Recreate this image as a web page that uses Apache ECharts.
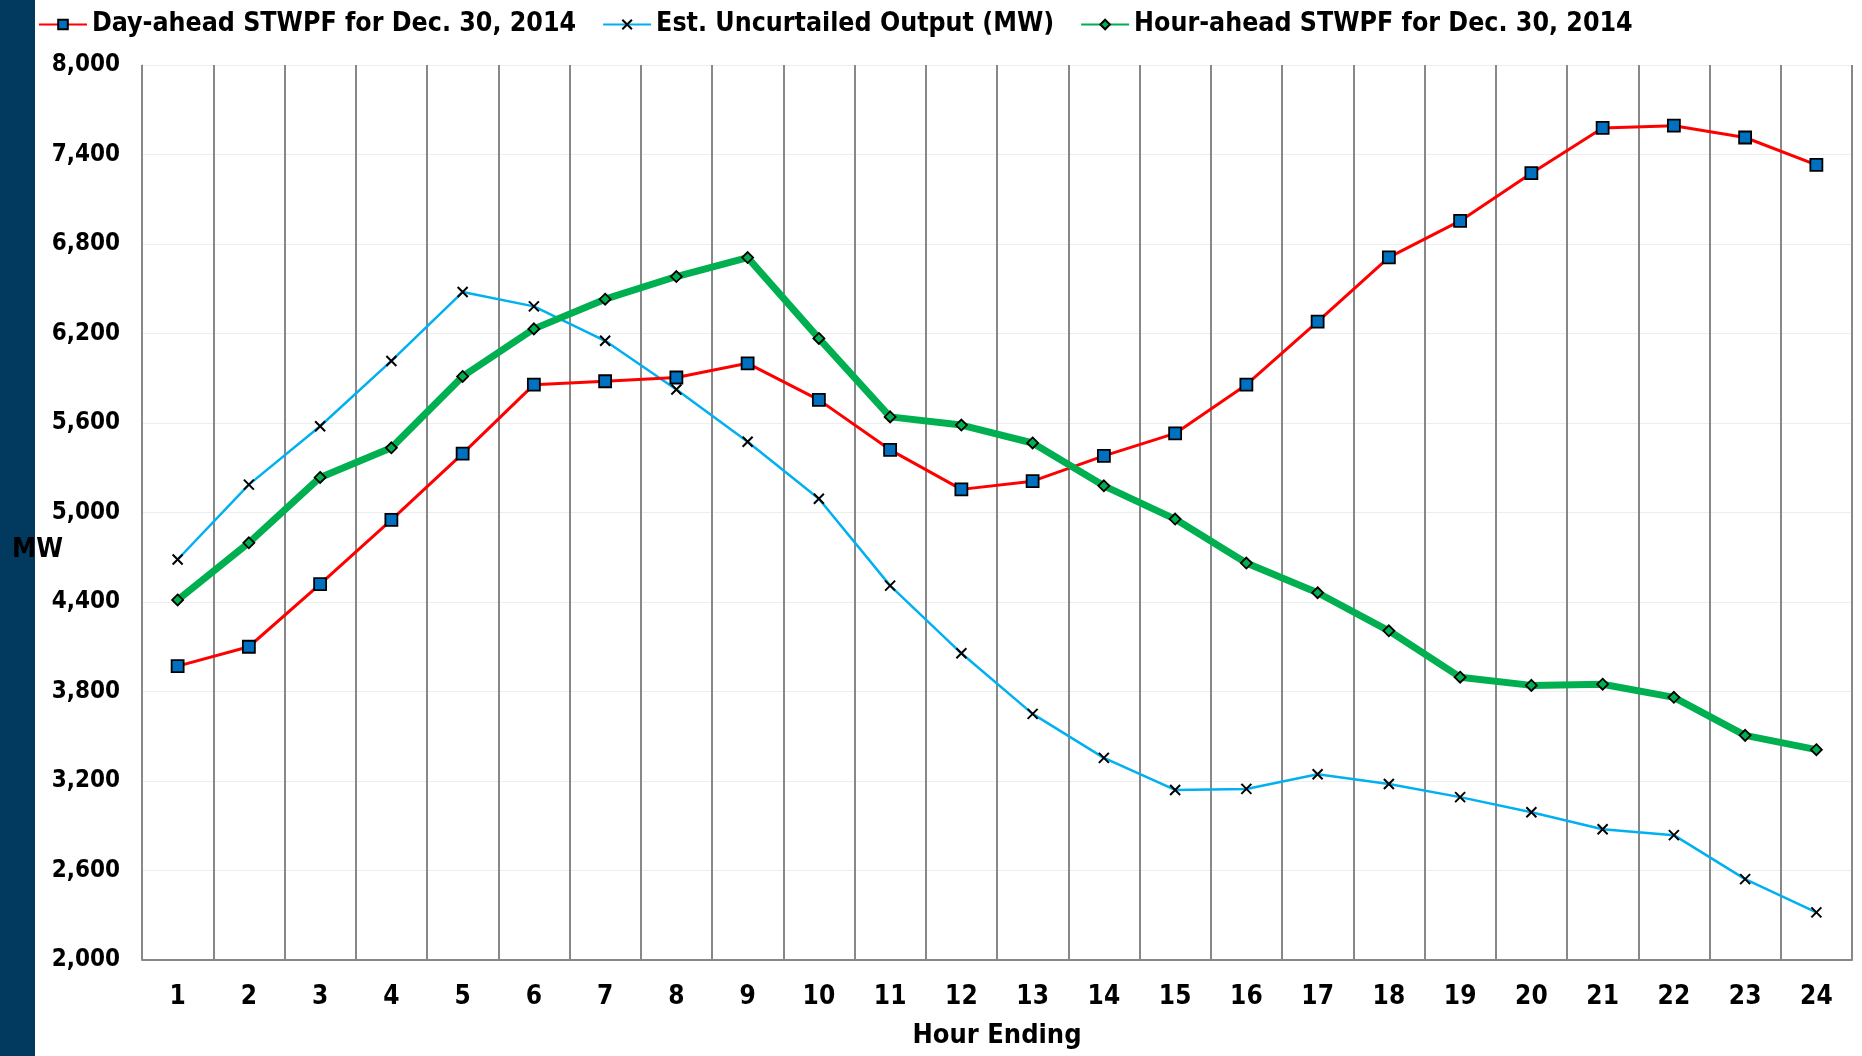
<!DOCTYPE html>
<html>
<head>
<meta charset="utf-8">
<script src="https://cdn.jsdelivr.net/npm/echarts@6/dist/echarts.min.js"></script>
<style>
  html, body { margin: 0; padding: 0; background: #ffffff; }
  #chart { width: 1862px; height: 1056px; }
</style>
</head>
<body>
<div id="chart"></div>
<script>
// hours 1..24
var hours = ['1', '2', '3', '4', '5', '6', '7', '8', '9', '10', '11', '12',
  '13', '14', '15', '16', '17', '18', '19', '20', '21', '22', '23', '24'];

// Day-ahead forecast (MW)
var dayAhead = [3970, 4100, 4520, 4950, 5395, 5857, 5880, 5905, 6000, 5755, 5420, 5155,
  5210, 5380, 5530, 5857, 6280, 6710, 6955, 7275, 7578, 7593, 7514, 7330];

// estimated uncurtailed output (MW)
var uncurtailed = [4685, 5187, 5578, 6016, 6478, 6382, 6151, 5825, 5474, 5092, 4510, 4056,
  3650, 3355, 3140, 3147, 3245, 3180, 3092, 2990, 2876, 2837, 2542, 2319];

// Hour-ahead forecast (MW)
var hourAhead = [4414, 4797, 5235, 5434, 5912, 6231, 6430, 6582, 6709, 6167, 5641, 5586,
  5466, 5179, 4956, 4661, 4462, 4207, 3896, 3841, 3849, 3761, 3506, 3410];

var seriesNames = ['Day-ahead STWPF for Dec. 30, 2014', 'Est. Uncurtailed Output (MW)', 'Hour-ahead STWPF for Dec. 30, 2014'];

var font = '"DejaVu Sans Condensed", "DejaVu Sans", sans-serif';

var chart = echarts.init(document.getElementById('chart'), null, { renderer: 'canvas' });

var option = {
  backgroundColor: '#ffffff',
  animation: false,
  textStyle: { fontFamily: font },
  graphic: [
    { type: 'rect', left: 0, top: 0, shape: { width: 35, height: 1056 }, style: { fill: '#023a5f' } },
    { type: 'text', left: 12, top: 536, style: { text: 'MW', font: 'bold 27px ' + font, fill: '#000' } }
  ],
  legend: {
    left: 33,
    top: 6,
    itemWidth: 48,
    itemHeight: 12,
    itemGap: 26,
    textStyle: { fontSize: 26.5, fontWeight: 'bold', color: '#000', fontFamily: font },
    data: seriesNames
  },
  grid: { left: 142, right: 10, top: 65, bottom: 96, outerBoundsMode: 'none' },
  xAxis: {
    type: 'category',
    data: hours,
    boundaryGap: true,
    name: 'Hour Ending',
    nameLocation: 'middle',
    nameGap: 62,
    nameTextStyle: { fontSize: 27, fontWeight: 'bold', color: '#000', fontFamily: font },
    axisLine: { lineStyle: { color: '#888888', width: 2 } },
    axisTick: { show: false },
    axisLabel: { fontSize: 26, fontWeight: 'bold', color: '#000', margin: 24, fontFamily: font },
    splitLine: { show: true, lineStyle: { color: '#888888', width: 2 } }
  },
  yAxis: {
    type: 'value',
    min: 2000,
    max: 8000,
    interval: 600,
    axisLine: { show: true, lineStyle: { color: '#888888', width: 1 } },
    axisTick: { show: false },
    axisLabel: {
      fontSize: 24, fontWeight: 'bold', color: '#000', margin: 22, fontFamily: font,
      formatter: function (v) { return v.toLocaleString('en-US'); }
    },
    splitLine: { lineStyle: { color: '#eeeeee', width: 1 } }
  },
  series: [
    {
      name: seriesNames[0],
      type: 'line',
      data: dayAhead,
      symbol: 'rect',
      symbolSize: 12,
      lineStyle: { color: '#ff0000', width: 3 },
      itemStyle: { color: '#0070c0', borderColor: '#000', borderWidth: 1.8 },
      z: 3
    },
    {
      name: seriesNames[1],
      type: 'line',
      data: uncurtailed,
      symbol: 'path://M0,0L10,10M10,0L0,10',
      symbolSize: 10,
      lineStyle: { color: '#00b0f0', width: 2.5 },
      itemStyle: { color: 'none', borderColor: '#000', borderWidth: 2 },
      z: 2
    },
    {
      name: seriesNames[2],
      type: 'line',
      data: hourAhead,
      symbol: 'diamond',
      symbolSize: 11,
      lineStyle: { color: '#00b050', width: 7 },
      itemStyle: { color: '#00b050', borderColor: '#000', borderWidth: 1.8 },
      z: 4
    }
  ]
};

chart.setOption(option);
</script>
</body>
</html>
